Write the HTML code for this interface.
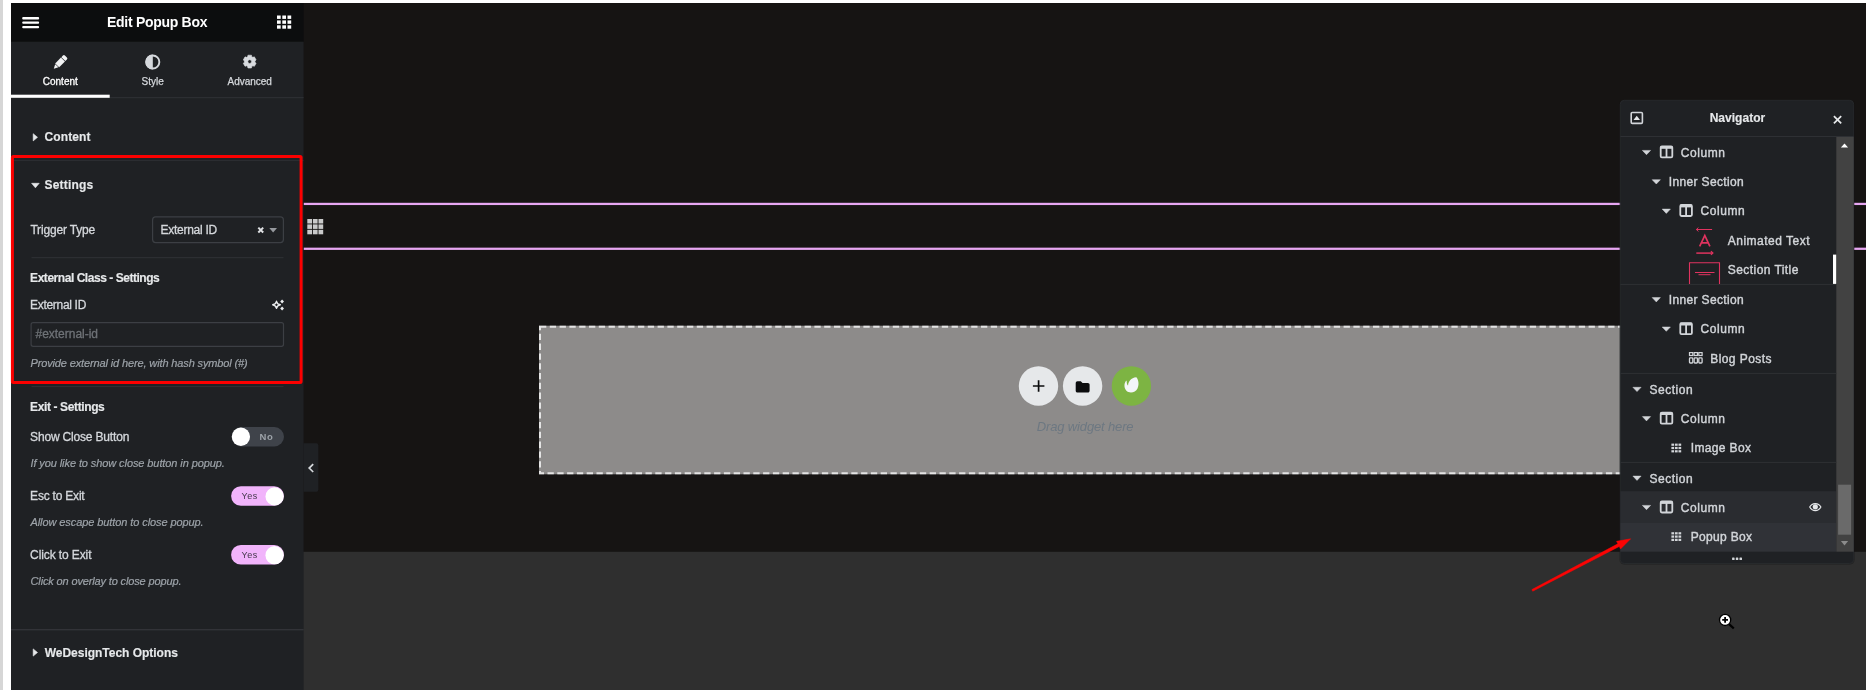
<!DOCTYPE html>
<html lang="en">
<head>
<meta charset="utf-8">
<title>Edit Popup Box</title>
<style>
html,body{margin:0;padding:0;background:#fff;}
body{width:1868px;height:690px;position:relative;overflow:hidden;font-family:"Liberation Sans",sans-serif;}
#bg{position:absolute;left:0;top:0;}
.t{position:absolute;white-space:pre;line-height:1;font-family:"Liberation Sans",sans-serif;}
#tx{position:absolute;left:0;top:0;width:1868px;height:690px;will-change:transform;}
</style>
</head>
<body>
<svg id="bg" width="1868" height="690" viewBox="0 0 1868 690">
<g id="base">
<rect x="0" y="0" width="3" height="690" fill="#d6d6d6"/>
<rect x="11" y="3" width="1855" height="687" fill="#161413"/>
<rect x="11" y="551.800" width="1855" height="138.200" fill="#2f2f2f"/>
</g>

<g id="canvas">
<rect x="303.500" y="202.800" width="1562.500" height="2.250" fill="#e7a6f2"/>
<rect x="303.500" y="247.650" width="1562.500" height="2.250" fill="#e7a6f2"/>
<g fill="#c9c9c9"><rect x="307.30" y="219.00" width="4.700" height="4.500"/><rect x="312.90" y="219.00" width="4.700" height="4.500"/><rect x="318.50" y="219.00" width="4.700" height="4.500"/><rect x="307.30" y="224.40" width="4.700" height="4.500"/><rect x="312.90" y="224.40" width="4.700" height="4.500"/><rect x="318.50" y="224.40" width="4.700" height="4.500"/><rect x="307.30" y="229.80" width="4.700" height="4.500"/><rect x="312.90" y="229.80" width="4.700" height="4.500"/><rect x="318.50" y="229.80" width="4.700" height="4.500"/></g>
<rect x="539" y="325.7" width="1092" height="148.6" fill="#8d8b8a"/>
<rect x="540" y="326.7" width="1090" height="146.6" fill="none" stroke="#e4e4e4" stroke-width="2" stroke-dasharray="6.3 3.5"/>
<circle cx="1038.5" cy="386" r="19.7" fill="#e6e8ea"/>
<circle cx="1082.6" cy="386" r="19.7" fill="#e6e8ea"/>
<circle cx="1131.4" cy="386" r="19.7" fill="#7db443"/>
<path d="M1038.6 380.3v11.5M1032.9 386h11.5" stroke="#0c0d0e" stroke-width="1.7" fill="none"/>
<path d="M1075.7 383.2c0-1.1.7-1.9 1.8-1.9h3.3l1.7 1.7h5.3c1.1 0 1.8.8 1.8 1.8v5.9c0 1-.8 1.8-1.8 1.8h-10.3c-1 0-1.8-.8-1.8-1.8z" fill="#0c0d0e"/>
<path d="M1136.2 377.3c1.6 1 3.6 6.300 1.300 11.2-2.100 4.300-8.300 5.200-11.300 1.900-1.800-2-2.600-6.200-.3-9.400.3-.4.800-.3.800.2 0 1.600.3 3.300 1 4.100.2.200.4.100.4-.1.300-3.500 2.900-7.300 8.100-7.900z" fill="#f4f6f8"/>
<!-- collapse handle -->
<path d="M303.400 443.200h12.900a2 2 0 0 1 2 2v44.600a2 2 0 0 1-2 2h-12.800z" fill="#1f2124"/>
<path d="M313.200 464.200l-4 3.900 4 3.900" stroke="#d5d8dc" stroke-width="1.700" fill="none"/>
</g>

<g id="panel">
<rect x="11" y="3" width="292.600" height="39" fill="#0c0d0e"/>
<rect x="11" y="41.700" width="292.600" height="648.300" fill="#1f2124"/>
<!-- hamburger -->
<g fill="#ffffff"><rect x="22.200" y="17" width="16.900" height="2.400" rx="1"/><rect x="22.200" y="21.400" width="16.900" height="2.400" rx="1"/><rect x="22.200" y="25.900" width="16.900" height="2.400" rx="1"/></g>
<!-- apps grid -->
<g fill="#ffffff">
<rect x="277" y="15.500" width="3.700" height="3.400"/><rect x="282.300" y="15.500" width="3.700" height="3.400"/><rect x="287.500" y="15.500" width="3.700" height="3.400"/>
<rect x="277" y="20.400" width="3.700" height="3.400"/><rect x="282.300" y="20.400" width="3.700" height="3.400"/><rect x="287.500" y="20.400" width="3.700" height="3.400"/>
<rect x="277" y="25.300" width="3.700" height="3.400"/><rect x="282.300" y="25.300" width="3.700" height="3.400"/><rect x="287.500" y="25.300" width="3.700" height="3.400"/>
</g>
<!-- tabs -->
<rect x="11" y="97.200" width="292.600" height="1" fill="#303236"/>
<rect x="11" y="94.700" width="98.700" height="3.100" fill="#ffffff"/>
<g transform="translate(53.800 68.800) rotate(-45.300)" fill="#f1f2f3">
<path d="M0 0L4.300 -2.300V2.300Z"/><rect x="4.800" y="-2.800" width="8.200" height="5.600"/><path d="M13.600 -2.800h2.200a1.400 1.400 0 0 1 1.400 1.400v2.800a1.400 1.400 0 0 1-1.400 1.400h-2.200z"/>
</g>
<circle cx="152.800" cy="62" r="6.550" fill="none" stroke="#d5d8dc" stroke-width="1.900"/>
<path d="M152.800 54.500a7.500 7.500 0 0 0 0 15z" fill="#d5d8dc"/>
<path d="M247.64 56.72 L247.93 55.19 L251.47 55.19 L251.76 56.72 L252.90 57.37 L254.36 56.86 L256.14 59.93 L254.96 60.95 L254.96 62.25 L256.14 63.27 L254.36 66.34 L252.90 65.83 L251.76 66.48 L251.47 68.01 L247.93 68.01 L247.64 66.48 L246.50 65.83 L245.04 66.34 L243.26 63.27 L244.44 62.25 L244.44 60.95 L243.26 59.93 L245.04 56.86 L246.50 57.37Z M247.80 61.60a1.9 1.9 0 1 0 3.8 0a1.9 1.9 0 1 0 -3.8 0Z" fill="#d8dbdf" stroke="#d8dbdf" stroke-width="0.6" stroke-linejoin="round" fill-rule="evenodd"/>
<!-- section arrows -->
<path d="M33.200 133.700l4.300 3.600-4.300 3.600z" fill="#e6e8ea" stroke="#e6e8ea" stroke-width="0.600" stroke-linejoin="round"/>
<path d="M31.600 183.300h7.600l-3.800 4.500z" fill="#e6e8ea" stroke="#e6e8ea" stroke-width="0.600" stroke-linejoin="round"/>
<path d="M33.200 648.900l4.300 3.600-4.300 3.600z" fill="#e6e8ea" stroke="#e6e8ea" stroke-width="0.600" stroke-linejoin="round"/>
<!-- separators -->
<rect x="11" y="159.900" width="292.600" height="1" fill="#2d2f33"/>
<rect x="31.500" y="257.200" width="252" height="1" fill="#303236"/>
<rect x="31.500" y="386.100" width="252" height="1" fill="#303236"/>
<rect x="11" y="629.200" width="292.600" height="1.100" fill="#37393d"/>
<!-- select -->
<rect x="152.600" y="216.900" width="130.800" height="25.700" rx="3" fill="#1f2124" stroke="#3c3f44" stroke-width="1.200"/>
<path d="M258.300 227.600l4.900 4.900M263.200 227.600l-4.900 4.900" stroke="#dfe1e4" stroke-width="2" fill="none"/>
<path d="M269.300 228h7.700l-3.850 4.600z" fill="#96999e"/>
<!-- AI sparkle -->
<path d="M276.500 301.300c.400 2.200 1.300 3 3.800 3.500-2.500.500-3.400 1.300-3.800 3.500-.500-2.200-1.400-3-3.800-3.500 2.400-.500 3.300-1.300 3.800-3.500z" fill="none" stroke="#eceef0" stroke-width="1.400" stroke-linejoin="round"/>
<path d="M282.100 299.600l1.900 1.900-1.900 1.900-1.900-1.900z" fill="#eceef0"/>
<path d="M282.100 306.600l1.900 1.900-1.900 1.900-1.900-1.900z" fill="#eceef0"/>
<!-- input -->
<rect x="31.100" y="322.600" width="252.400" height="23.700" rx="2" fill="#1f2124" stroke="#3c3f44" stroke-width="1.200"/>
<!-- toggles -->
<rect x="231.600" y="427.100" width="52.400" height="19.300" rx="9.650" fill="#3f434a"/>
<circle cx="240.900" cy="436.750" r="9.150" fill="#ffffff"/>
<rect x="231.100" y="486.200" width="52.800" height="19.600" rx="9.800" fill="#f1b4fb"/>
<circle cx="274.600" cy="496.400" r="9.150" fill="#ffffff"/>
<rect x="231.100" y="545" width="52.800" height="19.600" rx="9.800" fill="#f1b4fb"/>
<circle cx="274.600" cy="555.200" r="9.150" fill="#ffffff"/>
<!-- red highlight -->
<rect x="12.400" y="156.400" width="288.700" height="226.200" rx="1" fill="none" stroke="#fc0000" stroke-width="3"/>
</g>

<g id="nav">
<rect x="1619.400" y="99.900" width="235.300" height="464.800" rx="5" fill="#000" opacity="0.220"/>
<rect x="1620.200" y="100.300" width="233.500" height="463.200" rx="4" fill="#1f2124" stroke="#2a2c2f" stroke-width="0.800"/>
<rect x="1620.400" y="136" width="233.300" height="1" fill="#2e3034"/>
<!-- scrollbar -->
<rect x="1836.300" y="137" width="17.400" height="414.700" fill="#424242"/>
<rect x="1838.100" y="484.700" width="13" height="50" fill="#6a6a6a"/>
<path d="M1840.900 147.600l3.600-4.200 3.600 4.200z" fill="#ffffff"/>
<path d="M1840.900 541.100h7.200l-3.600 4.400z" fill="#8c8c8c"/>
<!-- row highlights -->
<rect x="1620.400" y="491.200" width="215.600" height="31.300" fill="#2a2c30"/>
<rect x="1620.400" y="522.500" width="215.600" height="29.200" fill="#303237"/>
<!-- separators -->
<rect x="1620.400" y="283.900" width="215.900" height="1" fill="#2e3034"/>
<rect x="1620.400" y="372.900" width="215.900" height="1" fill="#2e3034"/>
<rect x="1620.400" y="461.900" width="215.900" height="1" fill="#2e3034"/>
<!-- header icons -->
<rect x="1631.200" y="112.500" width="11.200" height="10.900" rx="1.100" fill="none" stroke="#d2d5d9" stroke-width="1.600"/>
<path d="M1633.500 120.100l3.250-4.300 3.250 4.300z" fill="#e6e8ea"/>
<path d="M1833.900 116.100l7.300 7.300M1841.200 116.100l-7.300 7.300" stroke="#e6e8ea" stroke-width="1.700" fill="none"/>
<!-- rows -->
<path d="M1642.4 150.4h8.2l-4.1 4.300z" fill="#d2d5d9" stroke="#d2d5d9" stroke-width="0.500" stroke-linejoin="round"/><rect x="1660.7" y="146.4" width="11.600" height="11" rx="1.200" fill="none" stroke="#d2d5d9" stroke-width="1.800"/><rect x="1660.7" y="146.0" width="11.600" height="2.800" fill="#d2d5d9"/><rect x="1665.6" y="146.5" width="1.800" height="11" fill="#d2d5d9"/>
<path d="M1652.2 179.7h8.2l-4.1 4.300z" fill="#d2d5d9" stroke="#d2d5d9" stroke-width="0.500" stroke-linejoin="round"/>
<path d="M1662.2 209.1h8.2l-4.1 4.300z" fill="#d2d5d9" stroke="#d2d5d9" stroke-width="0.500" stroke-linejoin="round"/><rect x="1680.3" y="205.0" width="11.600" height="11" rx="1.200" fill="none" stroke="#d2d5d9" stroke-width="1.800"/><rect x="1680.3" y="204.6" width="11.600" height="2.800" fill="#d2d5d9"/><rect x="1685.2" y="205.1" width="1.800" height="11" fill="#d2d5d9"/>
<path d="M1652.2 297.6h8.2l-4.1 4.300z" fill="#d2d5d9" stroke="#d2d5d9" stroke-width="0.500" stroke-linejoin="round"/>
<path d="M1662.2 327.0h8.2l-4.1 4.300z" fill="#d2d5d9" stroke="#d2d5d9" stroke-width="0.500" stroke-linejoin="round"/><rect x="1680.3" y="323.1" width="11.600" height="11" rx="1.200" fill="none" stroke="#d2d5d9" stroke-width="1.800"/><rect x="1680.3" y="322.7" width="11.600" height="2.800" fill="#d2d5d9"/><rect x="1685.2" y="323.2" width="1.800" height="11" fill="#d2d5d9"/>
<rect x="1689.50" y="352.60" width="3.300" height="2.900" fill="none" stroke="#d2d5d9" stroke-width="1.200"/><rect x="1689.50" y="357.90" width="3.300" height="5.100" rx="0.800" fill="none" stroke="#d2d5d9" stroke-width="1.300"/><rect x="1694.15" y="352.60" width="3.300" height="2.900" fill="none" stroke="#d2d5d9" stroke-width="1.200"/><rect x="1694.15" y="357.90" width="3.300" height="5.100" rx="0.800" fill="none" stroke="#d2d5d9" stroke-width="1.300"/><rect x="1698.80" y="352.60" width="3.300" height="2.900" fill="none" stroke="#d2d5d9" stroke-width="1.200"/><rect x="1698.80" y="357.90" width="3.300" height="5.100" rx="0.800" fill="none" stroke="#d2d5d9" stroke-width="1.300"/>
<path d="M1632.9 387.3h8.2l-4.1 4.300z" fill="#d2d5d9" stroke="#d2d5d9" stroke-width="0.500" stroke-linejoin="round"/>
<path d="M1642.4 416.6h8.2l-4.1 4.300z" fill="#d2d5d9" stroke="#d2d5d9" stroke-width="0.500" stroke-linejoin="round"/><rect x="1660.7" y="412.6" width="11.600" height="11" rx="1.200" fill="none" stroke="#d2d5d9" stroke-width="1.800"/><rect x="1660.7" y="412.2" width="11.600" height="2.800" fill="#d2d5d9"/><rect x="1665.6" y="412.7" width="1.800" height="11" fill="#d2d5d9"/>

<path d="M1632.9 476.1h8.2l-4.1 4.300z" fill="#d2d5d9" stroke="#d2d5d9" stroke-width="0.500" stroke-linejoin="round"/>
<path d="M1642.4 505.4h8.2l-4.1 4.300z" fill="#d2d5d9" stroke="#d2d5d9" stroke-width="0.500" stroke-linejoin="round"/><rect x="1660.7" y="501.5" width="11.600" height="11" rx="1.200" fill="none" stroke="#d2d5d9" stroke-width="1.800"/><rect x="1660.7" y="501.1" width="11.600" height="2.800" fill="#d2d5d9"/><rect x="1665.6" y="501.6" width="1.800" height="11" fill="#d2d5d9"/>



<rect x="1671.40" y="443.60" width="2.700" height="2.200" fill="#d2d5d9"/><rect x="1674.95" y="443.60" width="2.700" height="2.200" fill="#d2d5d9"/><rect x="1678.50" y="443.60" width="2.700" height="2.200" fill="#d2d5d9"/><rect x="1671.40" y="446.90" width="2.700" height="2.200" fill="#d2d5d9"/><rect x="1674.95" y="446.90" width="2.700" height="2.200" fill="#d2d5d9"/><rect x="1678.50" y="446.90" width="2.700" height="2.200" fill="#d2d5d9"/><rect x="1671.40" y="450.20" width="2.700" height="2.200" fill="#d2d5d9"/><rect x="1674.95" y="450.20" width="2.700" height="2.200" fill="#d2d5d9"/><rect x="1678.50" y="450.20" width="2.700" height="2.200" fill="#d2d5d9"/>
<rect x="1671.40" y="532.20" width="2.700" height="2.200" fill="#d2d5d9"/><rect x="1674.95" y="532.20" width="2.700" height="2.200" fill="#d2d5d9"/><rect x="1678.50" y="532.20" width="2.700" height="2.200" fill="#d2d5d9"/><rect x="1671.40" y="535.50" width="2.700" height="2.200" fill="#d2d5d9"/><rect x="1674.95" y="535.50" width="2.700" height="2.200" fill="#d2d5d9"/><rect x="1678.50" y="535.50" width="2.700" height="2.200" fill="#d2d5d9"/><rect x="1671.40" y="538.80" width="2.700" height="2.200" fill="#d2d5d9"/><rect x="1674.95" y="538.80" width="2.700" height="2.200" fill="#d2d5d9"/><rect x="1678.50" y="538.80" width="2.700" height="2.200" fill="#d2d5d9"/>
<!-- animated text icon -->
<g stroke="#e0335f" stroke-width="1" fill="none">
<path d="M1696.300 229.500h15.800M1698.400 227.600l-2.100 1.900 2.100 1.900"/>
<path d="M1696.300 253.100h16" stroke-width="1.500"/><path d="M1710.900 251.300l2 1.800-2 1.800" stroke-width="1.200"/>
<path d="M1699.700 246.400l5.100-11 5.100 11M1701.600 242.800h6.400" stroke-width="1.700"/>
</g>
<!-- section title icon -->
<g stroke="#e0335f" fill="none">
<path d="M1689.500 284v-21.300h30v21.300" stroke-width="1.100"/>
<path d="M1695 272.500h19.500" stroke-width="1"/>
<path d="M1698.500 274.700h12" stroke-width="1"/>
</g>
<rect x="1833" y="254.600" width="3.200" height="29.300" fill="#ffffff"/>
<!-- eye -->
<path d="M1809.700 507.100c2.400-4.700 8.800-4.700 11.200 0-2.400 4.600-8.800 4.600-11.200 0z" fill="none" stroke="#e6e8ea" stroke-width="1.150"/>
<circle cx="1815.300" cy="506.800" r="2.600" fill="#e6e8ea"/>
<!-- footer dots -->
<g fill="#d2d5d9"><rect x="1732.100" y="557.500" width="2.500" height="2.500" rx="0.600"/><rect x="1735.800" y="557.500" width="2.500" height="2.500" rx="0.600"/><rect x="1739.500" y="557.500" width="2.500" height="2.500" rx="0.600"/></g>
</g>

<g id="overlay">
<path d="M1532.72 591.20 L1619.25 546.48 L1620.55 548.96 L1630.70 538.80 L1616.55 541.34 L1617.85 543.82 L1531.88 589.60Z" fill="#fb0404" stroke="#fb0404" stroke-width="0.500" stroke-linejoin="round"/>
<!-- magnifier cursor -->
<path d="M1728.800 623.800l5 4.700" stroke="#000" stroke-width="2.300" stroke-linecap="butt"/>
<circle cx="1725.100" cy="619.900" r="5.600" fill="#ffffff" stroke="#000" stroke-width="1.300"/>
<path d="M1722.200 619.900h5.800M1725.100 617v5.800" stroke="#000" stroke-width="1.800"/>
</g>

</svg>
<div id="tx">
<div class="t" style="left:107.01px;top:15.25px;font-size:14px;font-weight:bold;font-style:normal;color:#ffffff;letter-spacing:-0.288px;">Edit Popup Box</div>
<div class="t" style="left:42.78px;top:76.94px;font-size:10px;font-weight:normal;font-style:normal;color:#ffffff;letter-spacing:0.001px;-webkit-text-stroke:0.3px #fff;">Content</div>
<div class="t" style="left:141.58px;top:76.94px;font-size:10px;font-weight:normal;font-style:normal;color:#d5d8dc;letter-spacing:0.001px;-webkit-text-stroke:0.25px #d5d8dc;">Style</div>
<div class="t" style="left:227.58px;top:76.94px;font-size:10px;font-weight:normal;font-style:normal;color:#d5d8dc;letter-spacing:-0.049px;-webkit-text-stroke:0.25px #d5d8dc;">Advanced</div>
<div class="t" style="left:44.50px;top:131.34px;font-size:12px;font-weight:bold;font-style:normal;color:#e6e8ea;letter-spacing:0.113px;-webkit-text-stroke:0.15px #e6e8ea;">Content</div>
<div class="t" style="left:44.50px;top:178.84px;font-size:12px;font-weight:bold;font-style:normal;color:#e6e8ea;letter-spacing:0.195px;-webkit-text-stroke:0.15px #e6e8ea;">Settings</div>
<div class="t" style="left:30.40px;top:223.64px;font-size:12px;font-weight:normal;font-style:normal;color:#d5d8dc;letter-spacing:-0.163px;-webkit-text-stroke:0.3px #d5d8dc;">Trigger Type</div>
<div class="t" style="left:160.50px;top:223.64px;font-size:12px;font-weight:normal;font-style:normal;color:#d5d8dc;letter-spacing:-0.265px;-webkit-text-stroke:0.3px #d5d8dc;">External ID</div>
<div class="t" style="left:30.10px;top:271.94px;font-size:12px;font-weight:bold;font-style:normal;color:#e6e8ea;letter-spacing:-0.459px;-webkit-text-stroke:0.15px #e6e8ea;">External Class - Settings</div>
<div class="t" style="left:30.10px;top:298.94px;font-size:12px;font-weight:normal;font-style:normal;color:#d5d8dc;letter-spacing:-0.315px;-webkit-text-stroke:0.3px #d5d8dc;">External ID</div>
<div class="t" style="left:35.50px;top:328.14px;font-size:12px;font-weight:normal;font-style:normal;color:#6f7378;letter-spacing:-0.018px;-webkit-text-stroke:0.3px #6f7378;">#external-id</div>
<div class="t" style="left:30.44px;top:357.99px;font-size:11px;font-weight:normal;font-style:italic;color:#9da3a9;letter-spacing:-0.130px;-webkit-text-stroke:0.2px #9da3a9;">Provide external id here, with hash symbol (#)</div>
<div class="t" style="left:30.10px;top:400.54px;font-size:12px;font-weight:bold;font-style:normal;color:#e6e8ea;letter-spacing:-0.379px;-webkit-text-stroke:0.15px #e6e8ea;">Exit - Settings</div>
<div class="t" style="left:30.10px;top:431.04px;font-size:12px;font-weight:normal;font-style:normal;color:#d5d8dc;letter-spacing:-0.178px;-webkit-text-stroke:0.3px #d5d8dc;">Show Close Button</div>
<div class="t" style="left:259.40px;top:431.86px;font-size:9.5px;font-weight:bold;font-style:normal;color:#9da3a9;letter-spacing:0.626px;">No</div>
<div class="t" style="left:30.44px;top:457.59px;font-size:11px;font-weight:normal;font-style:italic;color:#9da3a9;letter-spacing:-0.090px;-webkit-text-stroke:0.2px #9da3a9;">If you like to show close button in popup.</div>
<div class="t" style="left:30.10px;top:489.94px;font-size:12px;font-weight:normal;font-style:normal;color:#d5d8dc;letter-spacing:-0.208px;-webkit-text-stroke:0.3px #d5d8dc;">Esc to Exit</div>
<div class="t" style="left:241.62px;top:491.58px;font-size:9px;font-weight:normal;font-style:normal;color:#43384a;letter-spacing:0.434px;">Yes</div>
<div class="t" style="left:30.44px;top:517.49px;font-size:11px;font-weight:normal;font-style:italic;color:#9da3a9;letter-spacing:-0.085px;-webkit-text-stroke:0.2px #9da3a9;">Allow escape button to close popup.</div>
<div class="t" style="left:30.10px;top:548.94px;font-size:12px;font-weight:normal;font-style:normal;color:#d5d8dc;letter-spacing:-0.107px;-webkit-text-stroke:0.3px #d5d8dc;">Click to Exit</div>
<div class="t" style="left:241.62px;top:550.58px;font-size:9px;font-weight:normal;font-style:normal;color:#43384a;letter-spacing:0.434px;">Yes</div>
<div class="t" style="left:30.54px;top:575.89px;font-size:11px;font-weight:normal;font-style:italic;color:#9da3a9;letter-spacing:-0.142px;-webkit-text-stroke:0.2px #9da3a9;">Click on overlay to close popup.</div>
<div class="t" style="left:44.70px;top:647.24px;font-size:12px;font-weight:bold;font-style:normal;color:#e6e8ea;letter-spacing:-0.019px;-webkit-text-stroke:0.15px #e6e8ea;">WeDesignTech Options</div>
<div class="t" style="left:1709.70px;top:112.24px;font-size:12px;font-weight:bold;font-style:normal;color:#e6e8ea;letter-spacing:0.019px;-webkit-text-stroke:0.15px #e6e8ea;">Navigator</div>
<div class="t" style="left:1680.80px;top:146.84px;font-size:12px;font-weight:normal;font-style:normal;color:#d2d5d9;letter-spacing:0.550px;-webkit-text-stroke:0.4px #d2d5d9;">Column</div>
<div class="t" style="left:1668.80px;top:176.04px;font-size:12px;font-weight:normal;font-style:normal;color:#d2d5d9;letter-spacing:0.349px;-webkit-text-stroke:0.4px #d2d5d9;">Inner Section</div>
<div class="t" style="left:1700.40px;top:205.34px;font-size:12px;font-weight:normal;font-style:normal;color:#d2d5d9;letter-spacing:0.610px;-webkit-text-stroke:0.4px #d2d5d9;">Column</div>
<div class="t" style="left:1727.80px;top:234.84px;font-size:12px;font-weight:normal;font-style:normal;color:#d2d5d9;letter-spacing:0.490px;-webkit-text-stroke:0.4px #d2d5d9;">Animated Text</div>
<div class="t" style="left:1727.80px;top:263.54px;font-size:12px;font-weight:normal;font-style:normal;color:#d2d5d9;letter-spacing:0.436px;-webkit-text-stroke:0.4px #d2d5d9;">Section Title</div>
<div class="t" style="left:1668.80px;top:294.04px;font-size:12px;font-weight:normal;font-style:normal;color:#d2d5d9;letter-spacing:0.349px;-webkit-text-stroke:0.4px #d2d5d9;">Inner Section</div>
<div class="t" style="left:1700.40px;top:323.24px;font-size:12px;font-weight:normal;font-style:normal;color:#d2d5d9;letter-spacing:0.610px;-webkit-text-stroke:0.4px #d2d5d9;">Column</div>
<div class="t" style="left:1710.20px;top:352.94px;font-size:12px;font-weight:normal;font-style:normal;color:#d2d5d9;letter-spacing:0.437px;-webkit-text-stroke:0.4px #d2d5d9;">Blog Posts</div>
<div class="t" style="left:1649.40px;top:383.74px;font-size:12px;font-weight:normal;font-style:normal;color:#d2d5d9;letter-spacing:0.529px;-webkit-text-stroke:0.4px #d2d5d9;">Section</div>
<div class="t" style="left:1680.80px;top:412.84px;font-size:12px;font-weight:normal;font-style:normal;color:#d2d5d9;letter-spacing:0.550px;-webkit-text-stroke:0.4px #d2d5d9;">Column</div>
<div class="t" style="left:1690.80px;top:442.34px;font-size:12px;font-weight:normal;font-style:normal;color:#d2d5d9;letter-spacing:0.342px;-webkit-text-stroke:0.4px #d2d5d9;">Image Box</div>
<div class="t" style="left:1649.40px;top:472.64px;font-size:12px;font-weight:normal;font-style:normal;color:#d2d5d9;letter-spacing:0.529px;-webkit-text-stroke:0.4px #d2d5d9;">Section</div>
<div class="t" style="left:1680.80px;top:501.64px;font-size:12px;font-weight:normal;font-style:normal;color:#d2d5d9;letter-spacing:0.550px;-webkit-text-stroke:0.4px #d2d5d9;">Column</div>
<div class="t" style="left:1690.80px;top:531.14px;font-size:12px;font-weight:normal;font-style:normal;color:#d2d5d9;letter-spacing:0.324px;-webkit-text-stroke:0.4px #d2d5d9;">Popup Box</div>
<div class="t" style="left:1036.85px;top:419.80px;font-size:13px;font-weight:normal;font-style:italic;color:#6d7882;letter-spacing:-0.154px;">Drag widget here</div>
</div>
</body>
</html>
